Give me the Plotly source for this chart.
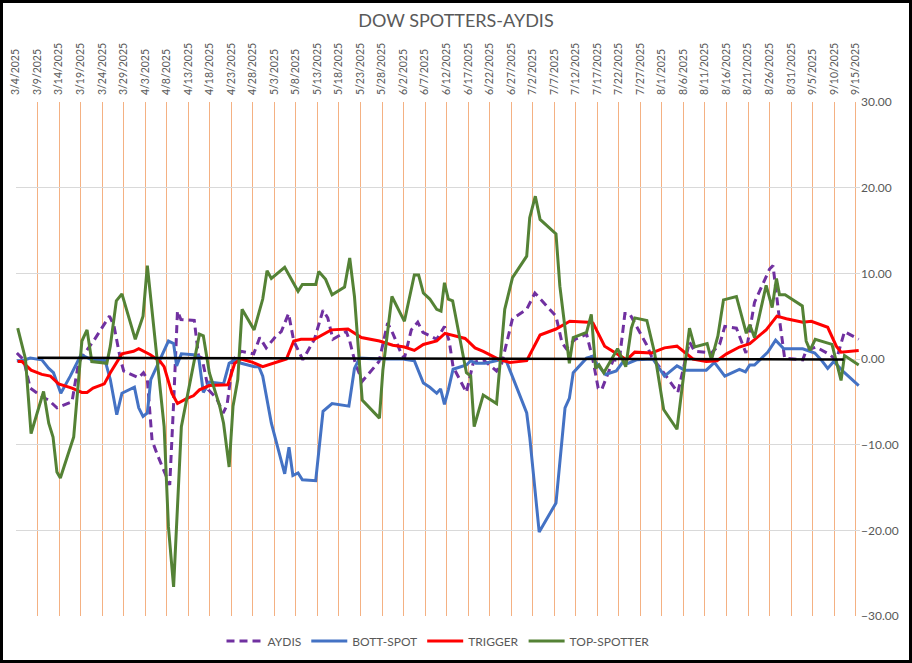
import pandas as pd
import plotly.graph_objects as go

START = "2025-03-04"

# Day offsets (days after 3/4/2025) and values
aydis_day = [0.2, 1.8, 3.3, 6.4, 7.6, 9.5, 13.0, 14.5, 15.7, 18.0, 21.7, 22.7, 24.2, 25.0, 28.5, 29.6, 30.5,
             31.6, 32.7, 34.3, 35.7, 36.6, 37.5, 38.3, 41.4, 42.4, 43.2, 44.7, 46.6, 48.1, 49.0, 50.4, 52.3,
             55.2, 56.6, 58.1, 60.4, 61.6, 63.3, 64.5, 66.6, 69.3, 71.3, 72.4, 73.6, 76.7, 77.5, 78.8, 80.4,
             84.3, 86.3, 87.5, 89.4, 90.2, 91.8, 93.3, 94.5, 97.7, 99.5, 100.6, 101.5, 104.6, 106.2, 108.5,
             111.6, 112.8, 115.3, 118.6, 120.5, 125.4, 126.8, 127.8, 129.8, 132.5, 133.9, 135.2, 136.0, 138.7,
             140.1, 141.4, 142.5, 146.4, 147.6, 150.4, 153.7, 156.4, 157.6, 161.5, 163.4, 164.6, 167.3, 169.5,
             171.5, 175.0, 175.8, 177.3, 178.5, 182.7, 183.5, 185.8, 188.7, 190.5, 192.4, 195.7]
aydis_val = [0.7, -0.1, -3.4, -4.5, -4.8, -5.7, -5.0, -0.5, 0.5, 2.1, 5.0, 4.0, 0.1, -1.4, -2.2, -1.6, -2.4,
             -9.5, -11.0, -13.0, -14.7, -5.2, 5.6, 4.6, 4.5, 0.3, 0.1, -3.6, -4.6, -6.3, -5.4, -0.1, 0.9,
             0.6, 2.5, 1.3, 2.7, 3.2, 5.3, 2.1, -0.1, 2.3, 5.7, 4.8, 2.3, 3.2, 2.1, -0.5, -2.6,
             -0.3, 4.2, 3.0, 0.7, 0.1, 3.4, 4.3, 3.1, 2.3, 3.8, 2.1, -0.9, -3.9, -0.4, -0.1,
             -1.4, -0.5, 4.7, 5.8, 7.7, 5.0, 1.9, 1.2, 2.3, 2.9, 0.1, -3.4, -3.6, -0.1,
             -0.2, 5.3, 5.3, 1.7, 0.3, -1.6, -3.9, 2.0, 0.9, 0.7, 1.7, 3.8, 3.6, 0.7,
             6.6, 10.5, 10.9, 4.6, 0.1, -0.1, 1.0, 1.4, 0.6, -0.1, 3.2, 2.3]

bott_day = [0.2, 1.4, 3.3, 6.0, 7.6, 8.7, 10.4, 12.6, 15.1, 17.2, 20.7, 21.9, 23.4, 24.6, 27.5, 28.5, 29.5,
            30.5, 31.3, 32.7, 35.4, 36.6, 37.3, 38.4, 41.2, 42.4, 43.5, 44.9, 48.2, 49.5, 50.8, 52.3, 55.4,
            56.4, 57.3, 59.3, 62.4, 63.4, 64.3, 65.5, 66.5, 69.6, 71.3, 73.4, 77.3, 78.6, 79.8, 84.4, 89.8,
            92.5, 94.6, 96.1, 97.7, 98.6, 99.5, 100.4, 101.5, 104.6, 105.6, 106.8, 108.9, 112.5, 113.9,
            118.6, 119.3, 121.5, 125.4, 127.5, 128.5, 129.4, 132.5, 133.8, 134.8, 136.9, 139.4, 141.0,
            142.1, 144.1, 147.9, 150.6, 153.5, 155.3, 160.3, 162.2, 164.6, 168.0, 169.4, 170.4, 171.5,
            174.6, 176.4, 178.3, 182.7, 185.5, 187.0, 188.5, 189.9, 192.4, 195.7]
bott_val = [-0.2, -0.2, 0.1, -0.1, -1.1, -1.6, -4.0, -2.0, 0.5, 0.0, -0.2, -2.4, -6.5, -4.0, -3.3, -5.7, -6.7,
            -6.3, -2.4, -0.9, 2.1, 1.8, -0.8, 0.6, 0.5, 0.3, -3.9, -2.7, -2.9, -0.5, -0.1, -0.5, -0.9,
            -0.9, -2.0, -7.5, -13.4, -10.3, -13.6, -13.3, -14.1, -14.2, -6.1, -5.2, -5.5, -1.1, 0.1, 0.0, 0.0,
            -0.2, -2.8, -3.3, -4.0, -3.5, -5.3, -3.6, -1.2, -0.7, -0.2, -0.5, -0.5, -0.1, -0.3,
            -6.3, -9.1, -20.2, -16.8, -5.7, -4.6, -1.6, 0.1, 0.3, -0.5, -1.8, -1.4, -0.3,
            -0.5, -0.1, 0.0, -2.0, -0.8, -1.3, -1.3, -0.4, -2.0, -1.2, -1.5, -0.7, -0.7,
            0.8, 2.2, 1.2, 1.2, 0.7, -0.1, -1.1, -0.3, -1.6, -3.1]

trig_day = [0.4, 1.4, 3.5, 6.0, 8.0, 9.9, 13.0, 15.3, 16.5, 17.9, 20.5, 21.9, 24.6, 27.3, 28.5, 31.2, 33.5,
            34.4, 36.2, 37.5, 39.7, 41.2, 42.6, 44.9, 49.2, 50.8, 52.3, 55.0, 57.3, 59.3, 62.8, 64.5, 66.2,
            69.3, 73.2, 77.1, 80.2, 84.4, 87.5, 90.2, 92.5, 94.6, 97.7, 99.6, 101.9, 104.3, 106.6, 108.5,
            112.0, 114.7, 118.6, 121.7, 125.4, 128.6, 132.9, 134.0, 136.7, 139.8, 141.8, 143.7, 147.6,
            150.6, 153.5, 157.2, 160.3, 162.8, 165.0, 168.0, 170.4, 174.2, 176.7, 178.9, 182.7, 184.7,
            188.5, 190.5, 191.6, 195.7]
trig_val = [-0.3, -0.3, -1.3, -1.8, -2.0, -2.9, -3.4, -3.9, -3.9, -3.4, -2.9, -1.6, 0.6, 0.9, 1.2, 0.5, -0.3,
            -0.9, -4.0, -5.2, -4.6, -4.3, -3.6, -3.1, -3.0, -0.5, 0.0, -0.4, -0.9, -0.6, 0.0, 2.1, 2.3,
            2.3, 3.4, 3.5, 2.5, 2.1, 1.6, 1.4, 1.0, 1.7, 2.1, 3.0, 2.7, 2.4, 1.3, 0.9,
            0.0, -0.4, -0.2, 2.8, 3.5, 4.4, 4.3, 4.2, 1.5, 0.5, -0.1, 0.8, 0.7,
            1.3, 1.5, 0.0, -0.3, -0.2, 0.6, 1.4, 1.8, 3.4, 5.0, 4.7, 4.3, 4.4,
            3.7, 1.5, 0.8, 1.0]

top_day = [0.4, 2.2, 3.5, 6.4, 7.6, 8.6, 9.5, 10.3, 13.4, 15.3, 16.5, 17.6, 21.1, 21.9, 23.3, 24.6, 27.7,
           29.5, 30.5, 32.7, 34.4, 35.4, 36.6, 38.4, 40.8, 42.6, 43.5, 44.9, 47.3, 48.2, 49.5, 50.4, 51.5,
           52.5, 55.3, 57.3, 58.3, 59.3, 62.4, 65.5, 66.5, 69.6, 70.3, 71.9, 73.4, 76.3, 77.5, 78.6, 80.4,
           84.4, 85.2, 87.3, 90.2, 91.8, 92.5, 93.5, 94.6, 96.1, 97.7, 98.7, 99.5, 100.4, 101.4, 104.6,
           105.6, 106.4, 108.5, 111.6, 112.4, 113.5, 115.3, 118.6, 119.3, 120.6, 121.7, 125.4, 126.3,
           128.5, 129.4, 132.5, 133.6, 134.6, 135.4, 136.5, 139.7, 141.6, 142.9, 143.7, 146.5, 148.3,
           150.4, 153.5, 156.4, 157.6, 160.5, 161.5, 163.0, 164.3, 167.3, 169.6, 170.4, 171.5, 174.2,
           175.6, 176.6, 177.3, 178.6, 182.6, 183.5, 184.4, 185.6, 189.5, 191.6, 192.4, 195.7]
top_val = [3.6, 0.0, -8.7, -3.8, -7.5, -9.1, -13.2, -13.9, -9.1, 2.1, 3.4, -0.3, -0.5, 1.5, 6.8, 7.6, 2.3,
           5.0, 10.9, 0.0, -7.9, -19.6, -26.6, -7.9, -1.6, 2.9, 2.7, -1.6, -5.5, -7.5, -12.6, -5.5, -2.4,
           5.8, 3.4, 7.0, 10.3, 9.4, 10.7, 7.9, 8.7, 8.7, 10.2, 9.3, 7.5, 8.4, 11.8, 7.3, -4.8,
           -6.9, -1.3, 7.3, 4.4, 8.1, 9.8, 9.8, 7.7, 7.0, 5.8, 5.6, 8.9, 7.0, 6.8, -1.6,
           -2.0, -7.9, -4.2, -5.2, -0.1, 5.8, 9.5, 12.0, 16.5, 19.0, 16.3, 14.6, 8.5,
           -0.5, 2.5, 3.1, 5.2, -1.1, -0.7, -1.6, 1.2, -0.9, 3.6, 4.8, 4.5, 0.7,
           -5.9, -8.2, 3.6, 1.4, 1.8, -0.1, 2.7, 6.9, 7.3, 3.0, 4.0, 2.5, 8.6,
           6.0, 9.4, 7.5, 7.5, 6.2, 2.1, 1.0, 2.3, 1.7, -2.5, 0.4, -0.7]

base_day = [5.0, 192.2]
base_val = [0.15, -0.05]

series = [
    ("AYDIS", aydis_day, aydis_val, "#7030A0", "8px,5px"),
    ("BOTT-SPOT", bott_day, bott_val, "#4472C4", "solid"),
    ("TRIGGER", trig_day, trig_val, "#FF0000", "solid"),
    ("TOP-SPOTTER", top_day, top_val, "#548235", "solid"),
]

start = pd.Timestamp(START)


def to_dates(days):
    return [start + pd.Timedelta(days=d) for d in days]


fig = go.Figure()
for name, d, v, color, dash in series:
    fig.add_trace(go.Scatter(x=to_dates(d), y=v, mode="lines", name=name,
                             line=dict(color=color, width=3, dash=dash)))
fig.add_trace(go.Scatter(x=to_dates(base_day), y=base_val, mode="lines", showlegend=False,
                         line=dict(color="#000000", width=2.5), hoverinfo="skip"))

L, R, T, B = 16, 52, 102, 47
W, H = 912, 663
pw, ph = W - L - R, H - T - B

fig.update_layout(
    width=W, height=H,
    margin=dict(l=L, r=R, t=T, b=B, autoexpand=False),
    paper_bgcolor="white", plot_bgcolor="white",
    font=dict(family="Lato, Liberation Sans, sans-serif", color="#595959", size=11),
    title=dict(text="DOW SPOTTERS-AYDIS", x=0.5, xanchor="center", y=1 - 21 / H, yanchor="middle",
               font=dict(size=18, color="#595959")),
    showlegend=True,
    legend=dict(orientation="h", x=0.5, xanchor="center", y=-25 / ph, yanchor="middle",
                font=dict(size=12, color="#595959"), bgcolor="rgba(0,0,0,0)", itemwidth=36),
    xaxis=dict(
        type="date", side="top", automargin=False,
        range=[start, start + pd.Timedelta(days=196)],
        tick0=START, dtick=5 * 86400000, tickformat="%-m/%-d/%Y", tickangle=-90,
        showgrid=True, gridcolor="#F4B183", gridwidth=1,
        ticks="", showline=False, zeroline=False, ticklabelstandoff=6,
        tickfont=dict(size=10.5, color="#595959"),
    ),
    yaxis=dict(
        side="right", range=[-30, 30], dtick=10, tickformat=".2f", automargin=False,
        showgrid=True, gridcolor="#D9D9D9", gridwidth=1, zeroline=False,
        ticks="", showline=False, tickfont=dict(size=12, color="#595959"),
    ),
    shapes=[dict(type="rect", xref="paper", yref="paper",
                 x0=-(L - 1.5) / pw, x1=1 + (R - 1.5) / pw,
                 y0=-(B - 1.5) / ph, y1=1 + (T - 1.5) / ph,
                 line=dict(color="black", width=3))],
)

fig.write_html("out.html", config={"displayModeBar": False},
               post_script="document.body.style.margin='0';document.body.style.padding='0';")
